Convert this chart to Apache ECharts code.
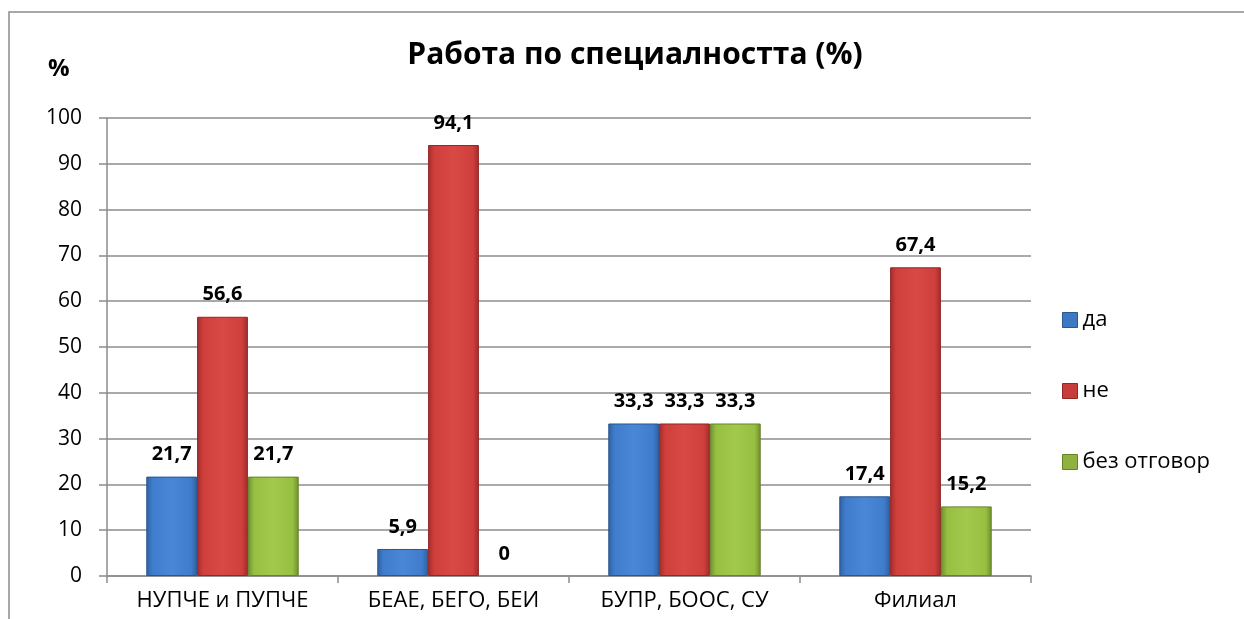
<!DOCTYPE html>
<html>
<head>
<meta charset="utf-8">
<script src="https://cdn.jsdelivr.net/npm/echarts@6/dist/echarts.min.js"></script>
<style>
  html, body { margin: 0; padding: 0; background: #fff; }
  #chart { width: 1244px; height: 619px; }
</style>
</head>
<body>
<div id="chart"></div>
<script>
const categories = ["НУПЧЕ и ПУПЧЕ", "БЕАЕ, БЕГО, БЕИ", "БУПР, БООС, СУ", "Филиал"];
const seriesNames = ["да", "не", "без отговор"];
const daValues = [21.7, 5.9, 33.3, 17.4];
const neValues = [56.6, 94.1, 33.3, 67.4];
const bezValues = [21.7, 0, 33.3, 15.2];
const yTicks = [0, 10, 20, 30, 40, 50, 60, 70, 80, 90, 100];

const font = "'Open Sans', 'Noto Sans', sans-serif";

// bevel-ish look: darker edges, lighter middle
function barColor(dark, mid, light) {
  return new echarts.graphic.LinearGradient(0, 0, 1, 0, [
    { offset: 0, color: dark },
    { offset: 0.12, color: mid },
    { offset: 0.5, color: light },
    { offset: 0.88, color: mid },
    { offset: 1, color: dark }
  ]);
}

const palette = [
  { fill: barColor("#2f5f9e", "#3f7ccc", "#4a87d6"), border: "#2b578f", legend: "#3c78c4" },
  { fill: barColor("#a02c2a", "#cf3f3c", "#d84845"), border: "#922826", legend: "#c83c3a" },
  { fill: barColor("#6f8d2e", "#97bf42", "#a2c94c"), border: "#67832a", legend: "#8fb23e" }
];

const dataSets = [daValues, neValues, bezValues];

const chart = echarts.init(document.getElementById("chart"));

chart.setOption({
  animation: false,
  textStyle: { fontFamily: font },
  title: [
    {
      text: "Работа по специалността (%)",
      left: 630,
      top: 35,
      textAlign: "center",
      textStyle: { fontSize: 30, fontWeight: "bold", color: "#000", fontFamily: font }
    },
    {
      text: "%",
      left: 43,
      top: 52,
      textStyle: { fontSize: 24, fontWeight: "bold", color: "#000", fontFamily: font }
    }
  ],
  legend: {
    orient: "vertical",
    left: 1057,
    top: 304,
    itemGap: 49,
    itemWidth: 15,
    itemHeight: 15,
    icon: "rect",
    textStyle: { fontSize: 22, color: "#000", fontFamily: font },
    data: seriesNames.map((n, i) => ({ name: n, itemStyle: { color: palette[i].legend, borderColor: palette[i].border, borderWidth: 1 } }))
  },
  graphic: [
    {
      type: "rect",
      shape: { x: 9, y: 12, width: 1260, height: 640 },
      style: { fill: "none", stroke: "#8c8c8c", lineWidth: 1.5 },
      silent: true
    }
  ],
  grid: { left: 107, right: 213, top: 118, bottom: 43, containLabel: false },
  xAxis: {
    type: "category",
    data: categories,
    axisLine: { lineStyle: { color: "#8c8c8c", width: 1.5 } },
    axisTick: { show: true, length: 7, lineStyle: { color: "#8c8c8c", width: 1.5 } },
    axisLabel: { fontSize: 22, color: "#000", margin: 14, fontFamily: font }
  },
  yAxis: {
    type: "value",
    min: yTicks[0],
    max: yTicks[yTicks.length - 1],
    interval: 10,
    axisLine: { show: true, lineStyle: { color: "#8c8c8c", width: 1.5 } },
    axisTick: { show: true, length: 8, inside: false, lineStyle: { color: "#8c8c8c", width: 1.5 } },
    axisLabel: { fontSize: 21, color: "#000", margin: 25, fontFamily: font },
    splitLine: { lineStyle: { color: "#8c8c8c", width: 1.5 } }
  },
  series: seriesNames.map((name, i) => ({
    name: name,
    type: "bar",
    data: dataSets[i].map(v => v === 0 ? { value: v, itemStyle: { borderWidth: 0 } } : v),
    barGap: "0%",
    barCategoryGap: "34%",
    itemStyle: {
      color: palette[i].fill,
      borderColor: palette[i].border,
      borderWidth: 1
    },
    label: {
      show: true,
      position: "top",
      distance: 12,
      fontSize: 20,
      fontWeight: "bold",
      color: "#000",
      fontFamily: font,
      formatter: p => String(p.value).replace(".", ",")
    }
  }))
});
</script>
</body>
</html>
